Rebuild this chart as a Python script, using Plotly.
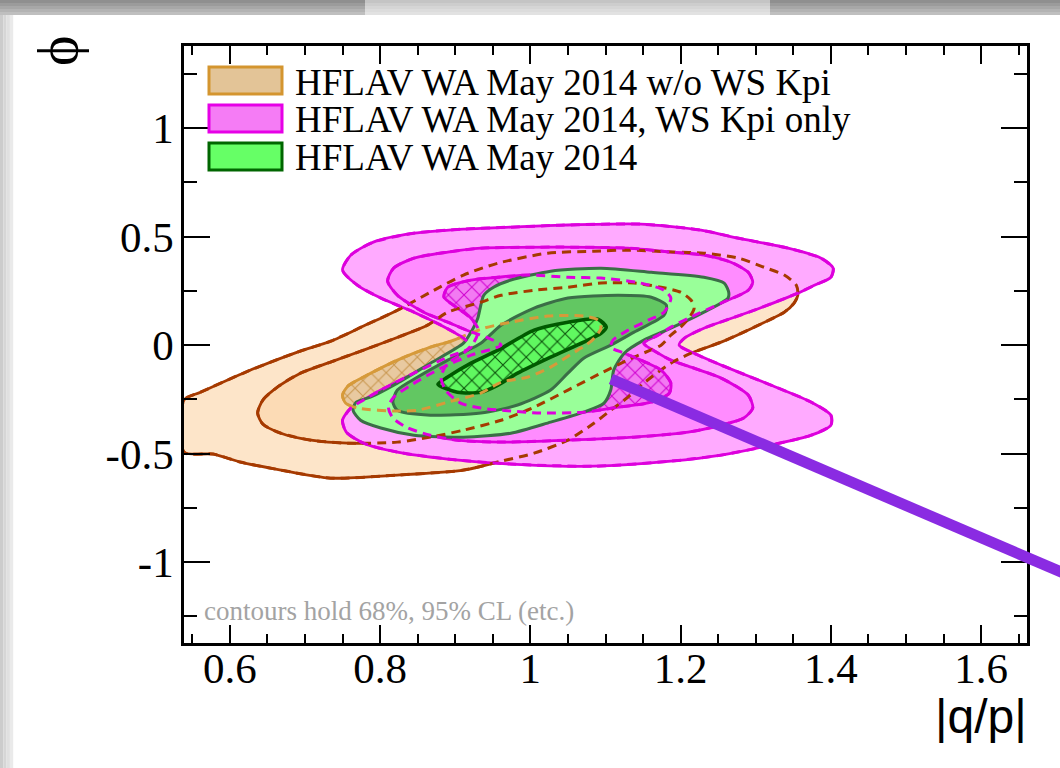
import plotly.graph_objects as go

# ---------------------------------------------------------------
# Contour boundaries in the (|q/p|, phi) plane
# ---------------------------------------------------------------
# HFLAV WA May 2014 w/o WS Kpi : outer, middle, inner contour
nows_outer_qp = [0.539, 0.561, 0.624, 0.690, 0.734, 0.778, 0.823, 0.867, 0.911, 0.957,
                 1.023, 1.085, 1.130, 1.191, 1.231, 1.277, 1.311, 1.338, 1.354, 1.356,
                 1.351, 1.338, 1.298, 1.254, 1.214, 1.187, 1.151, 1.130, 1.107, 1.085,
                 1.050, 1.005, 0.961, 0.911, 0.823, 0.734, 0.668, 0.614, 0.578, 0.539]
nows_outer_phi = [-0.253, -0.217, -0.120, -0.032, 0.018, 0.088, 0.161, 0.244, 0.323, 0.378,
                  0.424, 0.433, 0.438, 0.429, 0.424, 0.401, 0.359, 0.323, 0.276, 0.230,
                  0.194, 0.152, 0.083, 0.014, -0.037, -0.083, -0.175, -0.240, -0.300, -0.359,
                  -0.438, -0.498, -0.535, -0.576, -0.599, -0.613, -0.576, -0.539, -0.502, -0.493]

nows_mid_qp = [0.637, 0.644, 0.665, 0.694, 0.734, 0.778, 0.827, 0.863, 0.890, 0.934,
               0.961, 1.005, 1.050, 1.094, 1.138, 1.174, 1.200, 1.214, 1.218, 1.211,
               1.200, 1.187, 1.174, 1.138, 1.094, 1.050, 1.005, 0.961, 0.911, 0.867,
               0.823, 0.757, 0.708, 0.668, 0.644]
nows_mid_phi = [-0.313, -0.253, -0.189, -0.129, -0.078, -0.023, 0.041, 0.092, 0.152, 0.198,
                0.230, 0.253, 0.267, 0.286, 0.286, 0.267, 0.244, 0.207, 0.171, 0.124,
                0.083, 0.046, 0.000, -0.055, -0.129, -0.207, -0.286, -0.346, -0.392, -0.424,
                -0.447, -0.452, -0.438, -0.406, -0.364]

nows_inner_qp = [0.750, 0.757, 0.778, 0.823, 0.867, 0.894, 0.938, 0.974, 1.023, 1.071,
                 1.090, 1.094, 1.085, 1.074, 1.063, 1.027, 0.997, 0.961, 0.934, 0.890,
                 0.850, 0.823, 0.770, 0.754]
nows_inner_phi = [-0.230, -0.189, -0.147, -0.069, -0.009, 0.018, 0.078, 0.106, 0.134, 0.134,
                  0.115, 0.078, 0.032, 0.000, -0.023, -0.101, -0.147, -0.171, -0.221, -0.263,
                  -0.300, -0.304, -0.290, -0.267]

# HFLAV WA May 2014, WS Kpi only : outer, middle, inner contour
ws_outer_qp = [0.750, 0.761, 0.791, 0.845, 0.911, 0.974, 1.041, 1.147, 1.227, 1.277,
               1.343, 1.387, 1.403, 1.400, 1.378, 1.356, 1.298, 1.231, 1.205, 1.198,
               1.214, 1.254, 1.320, 1.374, 1.400, 1.400, 1.374, 1.320, 1.254, 1.187,
               1.085, 0.974, 0.890, 0.823, 0.778, 0.755, 0.750, 0.761, 0.778, 0.801,
               0.845, 0.890, 0.921, 0.911, 0.881, 0.845, 0.801, 0.770]
ws_outer_phi = [0.346, 0.415, 0.475, 0.516, 0.535, 0.544, 0.553, 0.558, 0.530, 0.493,
                0.447, 0.401, 0.355, 0.313, 0.276, 0.240, 0.161, 0.078, 0.032, 0.000,
                -0.032, -0.092, -0.184, -0.263, -0.323, -0.369, -0.415, -0.461, -0.507, -0.535,
                -0.558, -0.548, -0.525, -0.493, -0.452, -0.401, -0.346, -0.290, -0.253, -0.207,
                -0.129, -0.055, -0.009, 0.032, 0.092, 0.152, 0.217, 0.276]

ws_mid_qp = [0.810, 0.818, 0.845, 0.890, 0.934, 1.041, 1.130, 1.187, 1.231, 1.267,
             1.290, 1.296, 1.290, 1.254, 1.210, 1.187, 1.170, 1.151, 1.170, 1.187,
             1.210, 1.254, 1.290, 1.296, 1.284, 1.254, 1.210, 1.138, 1.050, 0.961,
             0.903, 0.867, 0.837, 0.817, 0.811, 0.818, 0.841, 0.881, 0.921, 0.961,
             0.941, 0.918, 0.890, 0.858, 0.823]
ws_mid_phi = [0.295, 0.355, 0.401, 0.429, 0.447, 0.452, 0.447, 0.429, 0.415, 0.382,
              0.336, 0.290, 0.253, 0.194, 0.124, 0.083, 0.046, 0.009, -0.037, -0.069,
              -0.097, -0.152, -0.230, -0.290, -0.336, -0.369, -0.401, -0.424, -0.438, -0.447,
              -0.438, -0.415, -0.382, -0.336, -0.286, -0.240, -0.184, -0.106, -0.046, 0.000,
              0.037, 0.065, 0.106, 0.152, 0.230]

ws_inner_qp = [0.885, 0.890, 0.921, 0.957, 0.997, 1.050, 1.094, 1.147, 1.178, 1.187,
               1.178, 1.157, 1.130, 1.110, 1.107, 1.125, 1.147, 1.174, 1.187, 1.185,
               1.161, 1.117, 1.071, 1.014, 0.974, 0.934, 0.907, 0.887, 0.881, 0.890,
               0.911, 0.925, 0.931, 0.921, 0.903]
ws_inner_phi = [0.221, 0.267, 0.300, 0.313, 0.323, 0.313, 0.309, 0.286, 0.253, 0.217,
                0.152, 0.115, 0.069, 0.023, -0.009, -0.037, -0.069, -0.115, -0.175, -0.221,
                -0.263, -0.286, -0.309, -0.313, -0.304, -0.290, -0.267, -0.207, -0.147, -0.083,
                -0.037, 0.014, 0.069, 0.124, 0.171]

# HFLAV WA May 2014 (combined) : outer, middle, inner contour
wa_outer_qp = [0.764, 0.768, 0.787, 0.823, 0.867, 0.911, 0.921, 0.930, 0.934, 0.938,
               0.951, 0.974, 1.027, 1.094, 1.161, 1.231, 1.258, 1.264, 1.263, 1.231,
               1.187, 1.151, 1.125, 1.111, 1.107, 1.098, 1.071, 1.027, 0.974, 0.911,
               0.845, 0.801, 0.774]
wa_outer_phi = [-0.300, -0.263, -0.240, -0.175, -0.083, 0.009, 0.060, 0.124, 0.184, 0.230,
                0.267, 0.300, 0.341, 0.355, 0.336, 0.313, 0.286, 0.244, 0.217, 0.152,
                0.078, 0.023, -0.037, -0.115, -0.207, -0.267, -0.309, -0.355, -0.406, -0.424,
                -0.415, -0.382, -0.346]

wa_mid_qp = [0.817, 0.823, 0.850, 0.890, 0.934, 0.961, 1.005, 1.050, 1.117, 1.161,
             1.181, 1.178, 1.138, 1.107, 1.071, 1.050, 1.027, 0.983, 0.934, 0.867, 0.823]
wa_mid_phi = [-0.263, -0.207, -0.147, -0.069, 0.009, 0.092, 0.171, 0.217, 0.230, 0.221,
              0.184, 0.138, 0.060, 0.000, -0.060, -0.129, -0.207, -0.276, -0.313, -0.323, -0.300]

wa_inner_qp = [0.877, 0.890, 0.921, 0.957, 1.005, 1.050, 1.090, 1.101, 1.094, 1.071,
               1.027, 0.983, 0.957, 0.934, 0.903]
wa_inner_phi = [-0.180, -0.147, -0.083, -0.023, 0.069, 0.106, 0.120, 0.083, 0.055, 0.014,
                -0.055, -0.129, -0.184, -0.217, -0.217]

# Axis ticks
x_tickvals = [0.6, 0.8, 1.0, 1.2, 1.4, 1.6]
x_ticktext = ["0.6", "0.8", "1", "1.2", "1.4", "1.6"]
y_tickvals = [-1.0, -0.5, 0.0, 0.5, 1.0]
y_ticktext = ["-1", "-0.5", "0", "0.5", "1"]

legend_labels = ["HFLAV WA May 2014 w/o WS Kpi",
                 "HFLAV WA May 2014, WS Kpi only",
                 "HFLAV WA May 2014"]

# ---------------------------------------------------------------
# Styling
# ---------------------------------------------------------------
W, H = 1060, 768
ML, MR, MT, MB = 184, 33, 46, 125
PW, PH = W - ML - MR, H - MT - MB

SERIF = "Liberation Serif, DejaVu Serif, serif"
SANS = "Liberation Sans, Arial, sans-serif"

BROWN = "#A63A00"
ORANGE = "#D69A3A"
MAGENTA = "#DD00DD"
GREEN_LINE = "#3B6E47"
GREEN_DARK = "#005A00"
DASH = "9px,6px"
SMOOTH = 0.7


def px_x(x):
    """Horizontal page pixel -> paper fraction."""
    return (x - ML) / PW


def px_y(y):
    """Vertical page pixel (from top) -> paper fraction."""
    return (H - MB - y) / PH


def closed(values):
    return list(values) + [values[0]]


fig = go.Figure()


def add_region(qp, phi, fill, line_color, width, pattern=None):
    kw = {}
    if pattern is not None:
        kw["fillpattern"] = pattern
    fig.add_trace(go.Scatter(
        x=closed(qp), y=closed(phi), mode="lines", fill="toself", fillcolor=fill,
        line=dict(color=line_color, width=width, shape="spline", smoothing=SMOOTH),
        hoverinfo="skip", showlegend=False, **kw))


def add_dashed(qp, phi, line_color, width=3.0):
    fig.add_trace(go.Scatter(
        x=closed(qp), y=closed(phi), mode="lines",
        line=dict(color=line_color, width=width, dash=DASH, shape="spline", smoothing=SMOOTH),
        hoverinfo="skip", showlegend=False))


# without WS Kpi
add_region(nows_outer_qp, nows_outer_phi, "#FDE5C9", BROWN, 2.8)
add_region(nows_mid_qp, nows_mid_phi, "#FCDBB5", BROWN, 2.8)
add_region(nows_inner_qp, nows_inner_phi, "#E8C9A0", ORANGE, 2.8,
           pattern=dict(shape="x", bgcolor="#E8C9A0", fgcolor="#C9974F",
                        size=11, solidity=0.18, fillmode="replace"))

# WS Kpi only
add_region(ws_outer_qp, ws_outer_phi, "#FFAAFF", MAGENTA, 2.8)
add_region(ws_mid_qp, ws_mid_phi, "#FF8CFF", MAGENTA, 2.8)
add_region(ws_inner_qp, ws_inner_phi, "#F27AF2", MAGENTA, 2.8,
           pattern=dict(shape="x", bgcolor="#F27AF2", fgcolor="#D000D0",
                        size=11, solidity=0.18, fillmode="replace"))

# combined average
add_region(wa_outer_qp, wa_outer_phi, "#99FF99", GREEN_LINE, 3.0)
add_region(wa_mid_qp, wa_mid_phi, "#62C762", GREEN_LINE, 3.0)
add_region(wa_inner_qp, wa_inner_phi, "#60F860", GREEN_DARK, 3.6,
           pattern=dict(shape="x", bgcolor="#60F860", fgcolor="#0A500A",
                        size=11, solidity=0.18, fillmode="replace"))

# contour lines of the other fits, overlaid dashed
add_dashed(nows_outer_qp, nows_outer_phi, BROWN)
add_dashed(nows_mid_qp, nows_mid_phi, BROWN)
add_dashed(nows_inner_qp, nows_inner_phi, ORANGE)
add_dashed(ws_outer_qp, ws_outer_phi, MAGENTA)
add_dashed(ws_mid_qp, ws_mid_phi, MAGENTA)
add_dashed(ws_inner_qp, ws_inner_phi, MAGENTA)

# ---------------------------------------------------------------
# Decorations: legend boxes, window chrome, pointer line
# ---------------------------------------------------------------
legend_fill = ["#E3C497", "#F57CF5", "#66FF66"]
legend_edge = ["#D4952F", "#E600E6", "#006600"]
legend_top = [67, 105, 143]

shapes = []
annotations = []
for label, fc, ec, top in zip(legend_labels, legend_fill, legend_edge, legend_top):
    shapes.append(dict(type="rect", xref="paper", yref="paper",
                       x0=px_x(209), x1=px_x(282), y0=px_y(top + 27), y1=px_y(top),
                       fillcolor=fc, line=dict(color=ec, width=3)))
    annotations.append(dict(text=label, xref="paper", yref="paper",
                            x=px_x(293), y=px_y(top + 15), xanchor="left", yanchor="middle",
                            showarrow=False, font=dict(family=SERIF, size=37, color="black")))

# gray window chrome along the top and left edges
top_bands = ["#8f8f8f", "#9b9b9b", "#a7a7a7", "#b3b3b3", "#bfbfbf"]
mid_bands = ["#c4c4c4", "#cdcdcd", "#d5d5d5", "#dcdcdc", "#e2e2e2"]
for i, (c_side, c_mid) in enumerate(zip(top_bands, mid_bands)):
    y0, y1 = px_y(3 * i + 3), px_y(3 * i)
    shapes.append(dict(type="rect", xref="paper", yref="paper", layer="above",
                       x0=px_x(0), x1=px_x(W), y0=y0, y1=y1,
                       fillcolor=c_side, line=dict(width=0)))
    shapes.append(dict(type="rect", xref="paper", yref="paper", layer="above",
                       x0=px_x(365), x1=px_x(770), y0=y0, y1=y1,
                       fillcolor=c_mid, line=dict(width=0)))
for i, c in enumerate(["#cccccc", "#d6d6d6", "#e0e0e0", "#eaeaea"]):
    shapes.append(dict(type="rect", xref="paper", yref="paper", layer="above",
                       x0=px_x(3.3 * i), x1=px_x(3.3 * i + 3.3), y0=px_y(H), y1=px_y(15),
                       fillcolor=c, line=dict(width=0)))

# purple pointer line
shapes.append(dict(type="line", xref="paper", yref="paper", layer="above",
                   x0=px_x(611), y0=px_y(379), x1=px_x(1075), y1=px_y(578),
                   line=dict(color="#8A2BE2", width=11)))

annotations += [
    dict(text="ϕ", xref="paper", yref="paper", x=px_x(57), y=px_y(51),
         xanchor="center", yanchor="middle", textangle=-90, showarrow=False,
         font=dict(family=SERIF, size=58, color="black")),
    dict(text="|q/p|", xref="paper", yref="paper", x=px_x(1029), y=px_y(688),
         xanchor="right", yanchor="top", showarrow=False,
         font=dict(family=SANS, size=48, color="black")),
    dict(text="contours hold 68%, 95% CL (etc.)", xref="paper", yref="paper",
         x=px_x(202), y=px_y(611), xanchor="left", yanchor="middle", showarrow=False,
         font=dict(family=SERIF, size=27, color="#A3A3A3")),
]

axis_common = dict(
    showgrid=False, zeroline=False, showline=True, linecolor="black", linewidth=2.5,
    mirror="allticks", ticks="inside", tickcolor="black",
    tickfont=dict(family=SERIF, size=43, color="black"),
)

fig.update_layout(
    width=W, height=H,
    margin=dict(l=ML, r=MR, t=MT, b=MB, pad=0),
    paper_bgcolor="white", plot_bgcolor="white",
    showlegend=False,
    xaxis=dict(range=[0.539, 1.661], tickvals=x_tickvals, ticktext=x_ticktext,
               ticklen=18, tickwidth=2,
               minor=dict(dtick=0.05, tick0=0.0, ticklen=9, tickwidth=1.5,
                          ticks="inside", tickcolor="black"),
               ticklabelstandoff=-14, **axis_common),
    yaxis=dict(range=[-1.373, 1.379], tickvals=y_tickvals, ticktext=y_ticktext,
               ticklen=26, tickwidth=2,
               minor=dict(dtick=0.25, tick0=0.0, ticklen=13, tickwidth=1.5,
                          ticks="inside", tickcolor="black"),
               ticklabelstandoff=-1, **axis_common),
    shapes=shapes,
    annotations=annotations,
)

fig.write_html("out.html", config={"displayModeBar": False})
